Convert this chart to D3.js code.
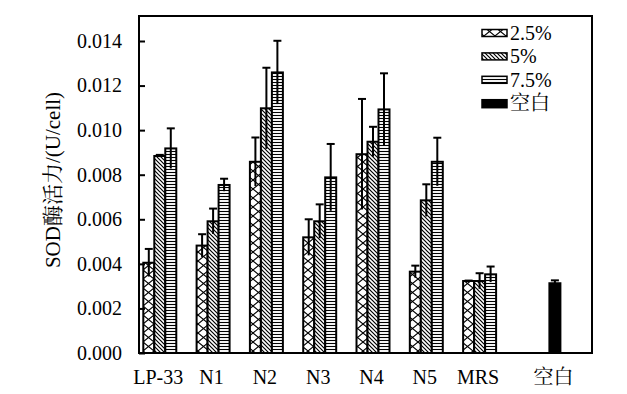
<!DOCTYPE html>
<html lang="zh">
<head>
<meta charset="UTF-8">
<title>SOD酶活力</title>
<style>
  body { margin: 0; background: #fff; }
</style>
</head>
<body>
<svg id="chart" width="627" height="394"></svg>
<script src="https://d3js.org/d3.v7.min.js"></script>
<script>
// data
const categories = ["LP-33", "N1", "N2", "N3", "N4", "N5", "MRS", "空白"];
const seriesNames = ["2.5%", "5%", "7.5%", "空白"];
const val25 = [0.00405, 0.00482, 0.00858, 0.00519, 0.00892, 0.00365, 0.00323, null];
const err25 = [0.00062, 0.00051, 0.00109, 0.00081, 0.00248, 0.00027, 0.00002, null];
const val5 = [0.00884, 0.00591, 0.01098, 0.00591, 0.00948, 0.00685, 0.00323, null];
const err5 = [0.00005, 0.00057, 0.00182, 0.00076, 0.00067, 0.00072, 0.00035, null];
const val75 = [0.00918, 0.00754, 0.01259, 0.00788, 0.01093, 0.00858, 0.00353, null];
const err75 = [0.00090, 0.00028, 0.00142, 0.00150, 0.00162, 0.00108, 0.00035, null];
const valBlank = [null, null, null, null, null, null, null, 0.00313];
const errBlank = [null, null, null, null, null, null, null, 0.00013];
const yTicks = [0, 0.002, 0.004, 0.006, 0.008, 0.010, 0.012, 0.014];

const seriesVals = [val25, val5, val75, valBlank];
const seriesErrs = [err25, err5, err75, errBlank];
const fills = ["url(#cross)", "url(#diag)", "url(#horiz)", "#000"];
const FONT = '"Liberation Serif", "Noto Serif CJK SC", serif';

const svg = d3.select("#chart");
const frame = { left: 139, right: 592, top: 16, bottom: 353 };

// hatch patterns
const defs = svg.append("defs");
const cross = defs.append("pattern").attr("id", "cross")
  .attr("patternUnits", "userSpaceOnUse").attr("width", 11).attr("height", 9);
cross.append("rect").attr("width", 11).attr("height", 9).attr("fill", "#fff");
cross.append("path").attr("d", "M0,0L11,9M11,0L0,9")
  .attr("stroke", "#000").attr("stroke-width", 1.1);

const diag = defs.append("pattern").attr("id", "diag")
  .attr("patternUnits", "userSpaceOnUse").attr("width", 4).attr("height", 4);
diag.append("rect").attr("width", 4).attr("height", 4).attr("fill", "#fff");
diag.append("path").attr("d", "M-1,-1L5,5M-1,3L1,5M3,-1L5,1")
  .attr("stroke", "#000").attr("stroke-width", 1.2);

const horiz = defs.append("pattern").attr("id", "horiz")
  .attr("patternUnits", "userSpaceOnUse").attr("width", 4).attr("height", 3);
horiz.append("rect").attr("width", 4).attr("height", 3).attr("fill", "#fff");
horiz.append("path").attr("d", "M0,1.5H4")
  .attr("stroke", "#000").attr("stroke-width", 1.1);

// scales
const y = d3.scaleLinear().domain([0, 0.014]).range([frame.bottom, 41]);
const x0 = d3.scaleBand().domain(categories)
  .range([143.3, 560.4]).paddingInner(0.175).paddingOuter(0).align(0);
const x1 = d3.scaleBand().domain(seriesNames).range([0, x0.bandwidth()]).padding(0);

// bars
const barData = [];
categories.forEach((c, i) => {
  seriesNames.forEach((s, j) => {
    const v = seriesVals[j][i];
    if (v != null) barData.push({ cat: c, ser: s, j: j, v: v, e: seriesErrs[j][i] });
  });
});

svg.append("g").selectAll("rect").data(barData).join("rect")
  .attr("x", d => x0(d.cat) + x1(d.ser))
  .attr("y", d => y(d.v))
  .attr("width", x1.bandwidth())
  .attr("height", d => y(0) - y(d.v))
  .attr("fill", d => fills[d.j])
  .attr("stroke", "#000")
  .attr("stroke-width", 2);

// error bars
const eb = svg.append("g").attr("stroke", "#000").attr("stroke-width", 2);
eb.selectAll("line.v").data(barData).join("line").attr("class", "v")
  .attr("x1", d => x0(d.cat) + x1(d.ser) + x1.bandwidth() / 2)
  .attr("x2", d => x0(d.cat) + x1(d.ser) + x1.bandwidth() / 2)
  .attr("y1", d => y(Math.max(0, d.v - d.e)))
  .attr("y2", d => y(d.v + d.e));
eb.selectAll("line.cap").data(barData).join("line").attr("class", "cap")
  .attr("x1", d => x0(d.cat) + x1(d.ser) + x1.bandwidth() / 2 - 4)
  .attr("x2", d => x0(d.cat) + x1(d.ser) + x1.bandwidth() / 2 + 4)
  .attr("y1", d => y(d.v + d.e))
  .attr("y2", d => y(d.v + d.e));

// frame and y axis
svg.append("rect")
  .attr("x", frame.left).attr("y", frame.top)
  .attr("width", frame.right - frame.left).attr("height", frame.bottom - frame.top)
  .attr("fill", "none").attr("stroke", "#000").attr("stroke-width", 2);

const yAxis = svg.append("g").attr("transform", `translate(${frame.left},0)`)
  .call(d3.axisLeft(y).tickValues(yTicks).tickFormat(d3.format(".3f"))
    .tickSizeInner(-6).tickSizeOuter(0).tickPadding(17));
yAxis.select(".domain").remove();
yAxis.selectAll(".tick line").attr("stroke", "#000").attr("stroke-width", 2);
yAxis.selectAll(".tick text").attr("font-size", 20).attr("fill", "#000")
  .style("font-family", FONT);

// x labels, centred on the drawn bars of each group
const labelX = c => {
  const i = categories.indexOf(c);
  const xs = [];
  seriesNames.forEach((s, j) => {
    if (seriesVals[j][i] != null) xs.push(x0(c) + x1(s) + x1.bandwidth() / 2);
  });
  return d3.mean(xs) - 1.5;
};
svg.append("g").selectAll("text").data(categories).join("text")
  .attr("x", d => labelX(d))
  .attr("y", 384)
  .attr("text-anchor", "middle")
  .attr("font-size", 20)
  .style("font-family", FONT)
  .text(d => d);

// y title
svg.append("text")
  .attr("transform", "translate(60,180) rotate(-90)")
  .attr("text-anchor", "middle")
  .attr("font-size", 21)
  .style("font-family", FONT)
  .text("SOD酶活力/(U/cell)");

// legend
const leg = svg.append("g");
seriesNames.forEach((s, j) => {
  const cy = 33 + j * 23.4;
  leg.append("rect")
    .attr("x", 482).attr("y", cy - 3.5)
    .attr("width", 25).attr("height", j === 3 ? 8 : 7)
    .attr("fill", fills[j]).attr("stroke", "#000").attr("stroke-width", 1.5);
  leg.append("text")
    .attr("x", 510).attr("y", cy + 7)
    .attr("font-size", 20)
    .style("font-family", FONT)
    .text(s);
});
</script>
</body>
</html>
